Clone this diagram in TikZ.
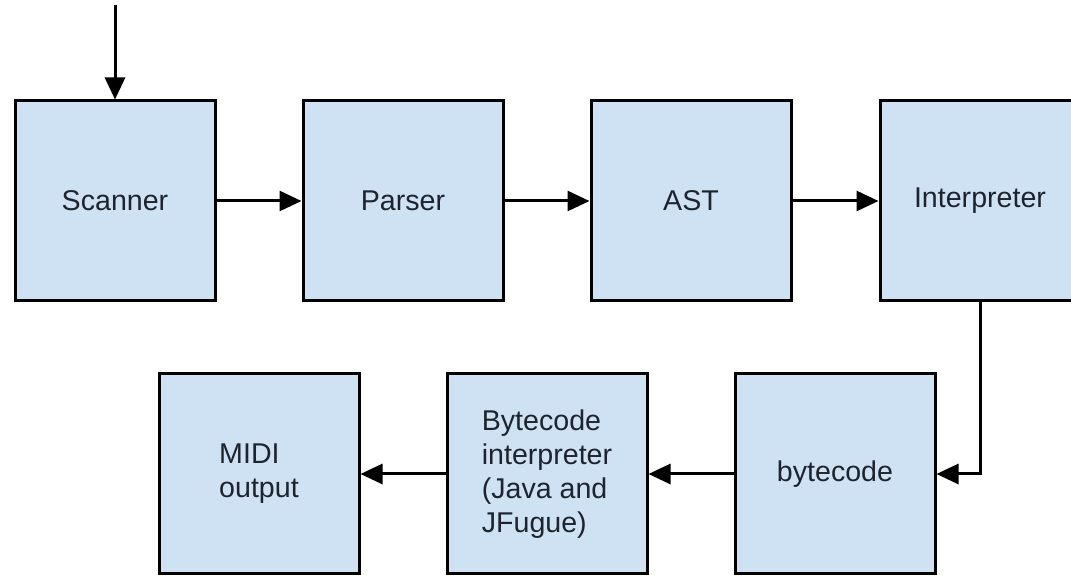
\documentclass[tikz,border=0pt]{standalone}
\usepackage{fontspec}
\setmainfont{Liberation Sans}
\usetikzlibrary{arrows.meta}
\definecolor{boxfill}{RGB}{207,226,243}
\definecolor{txt}{RGB}{30,36,46}
\tikzset{
  blk/.style={draw=black, line width=1.5pt, fill=boxfill, minimum width=100pt, minimum height=100pt, inner sep=0pt, text=txt, font=\fontsize{14.3}{17}\selectfont, align=left},
  conn/.style={line width=1.5pt, -{Triangle[length=11pt,width=10pt]}}
}
\begin{document}
\begin{tikzpicture}[x=0.5pt,y=-0.5pt]
\useasboundingbox (0,0) rectangle (1071,576);
\node[blk] (scanner) at (115,201) {Scanner};
\node[blk] (parser) at (403,201) {Parser};
\node[blk] (ast) at (691,201) {AST};
\node[blk] (interp) at (980,201) {Interpreter};
\node[blk] (midi) at (259,474) {MIDI\\output};
\node[blk] (bci) at (547,474) {Bytecode\\interpreter\\(Java and\\JFugue)};
\node[blk] (bc) at (835,474) {bytecode};
\coordinate (start) at (115,5);
\draw[conn] (start) -- (scanner.north);
\draw[conn] (scanner) -- (parser);
\draw[conn] (parser) -- (ast);
\draw[conn] (ast) -- (interp);
\draw[conn] (interp.south) |- (bc.east);
\draw[conn] (bc) -- (bci);
\draw[conn] (bci) -- (midi);
\end{tikzpicture}
\end{document}
